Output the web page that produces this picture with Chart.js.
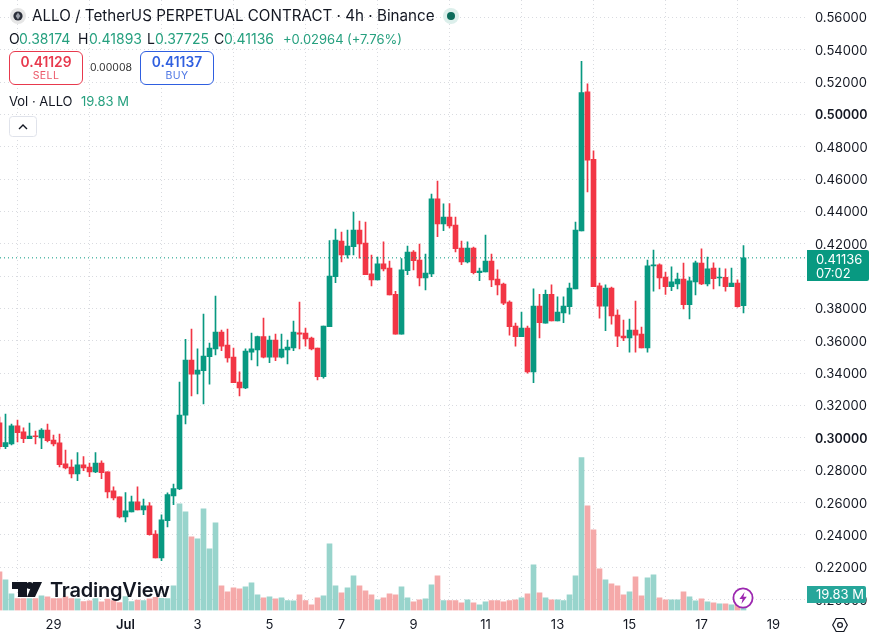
<!DOCTYPE html>
<html>
<head>
<meta charset="utf-8">
<title>ALLO / TetherUS 4h</title>
<script src="https://cdn.jsdelivr.net/npm/chart.js@4/dist/chart.umd.js"></script>
<style>
  html, body { margin: 0; padding: 0; background: #fff; }
  #wrap { position: relative; width: 874px; height: 639px; overflow: hidden; font-family: Inter, sans-serif; color: #131722; }
  canvas { position: absolute; left: 0; top: 0; }
  .t { position: absolute; white-space: nowrap; line-height: 1; }
  .g { color: #26a07f; }
  .box { position: absolute; top: 51px; width: 72px; height: 32px; border: 1px solid; border-radius: 6px; background: #fff; text-align: center; }
  .box b { position: absolute; left: 0; right: 0; top: 3px; font-size: 13.8px; font-weight: 600; line-height: 15px; }
  .box span { position: absolute; left: 0; right: 0; top: 18px; font-size: 10.5px; line-height: 12px; letter-spacing: .4px; opacity: .85; }
  .tag { position: absolute; color: #fff; font-size: 13px; }
  svg { position: absolute; overflow: visible; }
</style>
</head>
<body>
<div id="wrap">
  <canvas id="chart" width="874" height="639"></canvas>

  <svg style="left:10px;top:8px" width="16" height="16" viewBox="0 0 16 16">
    <circle cx="8" cy="8" r="8" fill="#e6e6e6"/>
    <circle cx="8" cy="8" r="4.6" fill="#2a2e39"/>
    <path d="M8 4.6 L10.4 8 L8 11.4 L5.6 8 Z" fill="#9a9ea8"/>
  </svg>
  <div class="t" id="title" style="left:32px;top:8px;font-size:15.2px"></div>
  <svg style="left:443px;top:8px" width="16" height="16" viewBox="0 0 16 16">
    <circle cx="8" cy="8" r="8" fill="#dcefeb"/>
    <circle cx="8" cy="8" r="4" fill="#0b6b5a"/>
  </svg>

  <div class="t" style="left:9px;top:32px;font-size:14px">O</div>
  <div class="t g" style="left:19px;top:32px;font-size:14px">0.38174</div>
  <div class="t" style="left:78px;top:32px;font-size:14px">H</div>
  <div class="t g" style="left:89px;top:32px;font-size:14px">0.41893</div>
  <div class="t" style="left:147px;top:32px;font-size:14px">L</div>
  <div class="t g" style="left:155px;top:32px;font-size:14px">0.37725</div>
  <div class="t" style="left:214px;top:32px;font-size:14px">C</div>
  <div class="t g" style="left:224px;top:32px;font-size:14px">0.41136</div>
  <div class="t g" style="left:283px;top:33px;font-size:13px">+0.02964</div>
  <div class="t g" style="left:347px;top:33px;font-size:13px">(+7.76%)</div>

  <div class="box" style="left:9px;color:#e8394d;border-color:#e8394d"><b>0.41129</b><span>SELL</span></div>
  <div class="t" style="left:90px;top:63px;font-size:10.5px;color:#333">0.00008</div>
  <div class="box" style="left:140px;color:#2f5fe0;border-color:#2f5fe0"><b>0.41137</b><span>BUY</span></div>

  <div class="t" style="left:9px;top:95px;font-size:13px">Vol · ALLO</div>
  <div class="t g" style="left:81px;top:95px;font-size:13px">19.83 M</div>

  <svg style="left:9px;top:116px" width="29" height="22" viewBox="0 0 29 22">
    <rect x=".5" y=".5" width="27" height="20" rx="3" fill="#fff" stroke="#e0e3eb"/>
    <path d="M10 13 L14 9 L18 13" fill="none" stroke="#131722" stroke-width="1.4"/>
  </svg>

  <svg style="left:12px;top:582px" width="30" height="15" viewBox="0 0 30 15">
    <path fill="#131722" d="M0 0H15V15H6V7H0Z"/>
    <circle cx="17.7" cy="3.5" r="3.5" fill="#131722"/>
    <path fill="#131722" d="M21 0H30L23 15H15Z"/>
  </svg>
  <div class="t" style="left:50px;top:580px;font-size:20px;font-weight:600;letter-spacing:-.2px">TradingView</div>

  <svg style="left:732px;top:587px" width="22" height="22" viewBox="0 0 22 22">
    <circle cx="11" cy="11" r="9.6" fill="#fff" stroke="#9c27b0" stroke-width="1.8"/>
    <path d="M12.6 5 L7.4 12 H10.6 L9.4 17 L14.8 9.8 H11.4 Z" fill="#9c27b0"/>
  </svg>

  <div class="tag" style="left:807px;top:250px;width:62px;height:31px;background:#089981;border-radius:0 2px 2px 0">
    <div class="t" style="left:9px;top:3px">0.41136</div>
    <div class="t" style="left:9px;top:17px">07:02</div>
  </div>
  <div class="tag" style="left:807px;top:586px;width:59px;height:17px;background:#26a69a;border-radius:0 2px 2px 0">
    <div class="t" style="left:9px;top:2px">19.83 M</div>
  </div>

  <svg style="left:832px;top:617px" width="16" height="16" viewBox="0 0 16 16">
    <path d="M4.2 1.5 H11.8 L15.3 8 L11.8 14.5 H4.2 L.7 8 Z" fill="none" stroke="#131722" stroke-width="1.2"/>
    <circle cx="8" cy="8" r="2.4" fill="none" stroke="#131722" stroke-width="1.2"/>
  </svg>
</div>

<script>
const titleText = 'ALLO / TetherUS PERPETUAL CONTRACT · 4h · Binance'

const opens = [
  .3094, .2946, .2963, .3074, .3037, .2995, .3012, .3000, .3049, .2987, .2969, .2839, .2820,
  .2777, .2833, .2820, .2790, .2845, .2790, .2672, .2635, .2511, .2542, .2604, .2555, .2580,
  .2406, .2258, .2488, .2641, .2685, .3140, .3482, .3395, .3416, .3502, .3551, .3655, .3574,
  .3500, .3346, .3309, .3531, .3544, .3626, .3500, .3605, .3500, .3544, .3556, .3650, .3649,
  .3618, .3556, .3378, .3688, .3997, .4218, .4131, .4183, .4286, .4205, .4014, .3977, .4076,
  .4051, .3888, .3642, .4035, .4150, .4100, .3989, .4014, .4478, .4323, .4366, .4317, .4174,
  .4088, .4174, .4022, .4026, .4094, .3983, .3952, .3840, .3692, .3626, .3679, .3408, .3815,
  .3710, .3888, .3724, .3773, .3811, .3922, .4280, .5140, .4723, .3940, .3815, .3927, .3760,
  .3630, .3618, .3667, .3642, .3556, .4064, .4071, .3995, .3936, .3952, .3983, .3824, .3965,
  .4082, .3952, .4051, .3989, .3993, .3936, .3958, .38174
]
const highs = [
  .3129, .3148, .3086, .3111, .3062, .3092, .3043, .3057, .3086, .3018, .3024, .2925, .2864,
  .2909, .2884, .2845, .2909, .2859, .2790, .2697, .2635, .2662, .2641, .2697, .2622, .2600,
  .2427, .2524, .2660, .2715, .3346, .3610, .3673, .3551, .3766, .3587, .3877, .3667, .3673,
  .3556, .3408, .3551, .3649, .3630, .3741, .3630, .3642, .3642, .3605, .3723, .3840, .3679,
  .3624, .3556, .3692, .4220, .4292, .4273, .4286, .4397, .4341, .4335, .4131, .4119, .4212,
  .4094, .3907, .4109, .4187, .4158, .4199, .4137, .4508, .4589, .4447, .4449, .4366, .4218,
  .4212, .4180, .4051, .4255, .4137, .4039, .3958, .3848, .3710, .3778, .3692, .3922, .3888,
  .3915, .3946, .3872, .3872, .3958, .4335, .5329, .5189, .4775, .3958, .3946, .3933, .3792,
  .3729, .3735, .3846, .3686, .4100, .4162, .4076, .4026, .4058, .4020, .4082, .3995, .4094,
  .4170, .4119, .4083, .4051, .4045, .4051, .3977, .41893
]
const lows = [
  .2932, .2934, .2956, .2975, .2971, .2995, .2963, .2934, .2975, .2950, .2820, .2808, .2752,
  .2736, .2798, .2760, .2785, .2748, .2629, .2616, .2505, .2481, .2542, .2555, .2526, .2398,
  .2258, .2241, .2450, .2587, .2680, .3086, .3259, .3272, .3210, .3333, .3514, .3539, .3469,
  .3341, .3259, .3304, .3482, .3445, .3494, .3465, .3477, .3494, .3457, .3539, .3551, .3568,
  .3544, .3358, .3370, .3688, .3960, .4088, .4112, .4131, .4112, .4009, .3940, .3977, .4033,
  .3884, .3642, .3642, .4009, .4039, .3940, .3915, .3997, .4244, .4282, .4298, .4150, .4071,
  .4083, .4014, .3973, .4026, .3936, .3884, .3824, .3636, .3568, .3626, .3401, .3341, .3618,
  .3710, .3724, .3724, .3712, .3766, .3922, .4280, .4521, .3936, .3741, .3663, .3704, .3564,
  .3601, .3531, .3531, .3556, .3531, .3907, .3922, .3888, .3911, .3922, .3797, .3736, .3884,
  .3948, .3940, .3922, .3940, .3907, .3936, .3809, .37725
]
const closes = [
  .2946, .2971, .3074, .3032, .2995, .3012, .3007, .3049, .2983, .2963, .2835, .2814, .2777,
  .2833, .2814, .2790, .2845, .2785, .2666, .2629, .2511, .2549, .2604, .2555, .2580, .2402,
  .2258, .2493, .2649, .2686, .3142, .3482, .3395, .3420, .3506, .3556, .3655, .3568, .3494,
  .3341, .3309, .3537, .3551, .3626, .3500, .3605, .3500, .3550, .3562, .3655, .3642, .3612,
  .3550, .3378, .3692, .4001, .4224, .4131, .4187, .4286, .4199, .4009, .3977, .4076, .4045,
  .3884, .3642, .4039, .4150, .4096, .3989, .4020, .4478, .4323, .4366, .4311, .4170, .4088,
  .4174, .4022, .4031, .4094, .3977, .3946, .3834, .3688, .3626, .3679, .3408, .3815, .3712,
  .3888, .3724, .3778, .3815, .3927, .4286, .5136, .4718, .3936, .3815, .3927, .3755, .3630,
  .3618, .3667, .3636, .3556, .4064, .4068, .3989, .3936, .3965, .3983, .3824, .3971, .4083,
  .3952, .4045, .3985, .3993, .3936, .3958, .3811, .41136
]
// volume in millions
const volumes = [
  49.5, 39.3, 21.4, 15.4, 15.4, 15.4, 15.4, 18.8, 17.5, 15.4, 15.4, 17.5, 15.4,
  15.0, 11.5, 12.4, 15.4, 11.1, 14.5, 12.8, 10.2, 17.9, 11.5, 13.2, 12.8, 15.0,
  17.0, 15.7, 15.4, 31.6, 136.6, 126.3, 94.3, 91.8, 130.2, 79.0, 112.3, 31.6, 23.9,
  29.1, 27.8, 30.3, 35.5, 20.1, 16.3, 17.5, 15.0, 16.3, 12.8, 12.4, 20.1, 12.8,
  7.3, 16.3, 18.8, 85.4, 31.6, 22.7, 29.1, 44.4, 31.6, 25.2, 20.1, 13.7, 16.3,
  21.4, 20.1, 30.3, 16.3, 11.1, 13.7, 15.0, 32.9, 44.4, 12.8, 12.8, 12.8, 9.9,
  13.7, 9.9, 7.3, 11.1, 12.8, 12.8, 11.1, 12.8, 13.7, 16.3, 21.4, 58.5, 22.7,
  16.3, 13.7, 13.7, 12.8, 20.1, 44.4, 195.5, 134.0, 103.3, 53.4, 39.3, 34.2, 31.6,
  20.1, 23.9, 43.1, 18.8, 41.9, 45.7, 16.3, 13.7, 13.7, 13.7, 23.9, 17.5, 12.4,
  15.0, 11.1, 9.9, 8.6, 8.6, 7.3, 8.6, 19.83
]

const priceTicks = [.56, .54, .52, .5, .48, .46, .44, .42, .4, .38, .36, .34, .32, .3, .28, .26, .24, .22, .2]
const boldPrices = [.5, .3]
const dayLabels = ['29', 'Jul', '3', '5', '7', '9', '11', '13', '15', '17', '19']
const dayCandles = [9, 21, 33, 45, 57, 69, 81, 93, 105, 117, 129]

const UP = '#089981'
const DOWN = '#f23645'
const VOL_UP = '#98d4cc'
const VOL_DOWN = '#f5a9a9'
const GRID = '#d9dbe0'
const FONT = 'Inter, sans-serif'

// visible window of the axes, one candle every 6px
const X_MIN = 1 / 12
const X_MAX = X_MIN + 807 / 6
const PRICE_MIN = 0.19327
const PRICE_MAX = 0.57082
const VOL_MAX = 781

document.getElementById('title').textContent = titleText

const isUp = (i) => closes[i] >= opens[i]
const candleColors = opens.map((o, i) => (isUp(i) ? UP : DOWN))
const volColors = opens.map((o, i) => (isUp(i) ? VOL_UP : VOL_DOWN))
const lastClose = closes[closes.length - 1]

// eslint-disable-next-line no-new
new Chart(document.getElementById('chart'), {
  type: 'bar',
  data: {
    datasets: [
      {
        type: 'line',
        order: 0,
        data: [{ x: X_MIN, y: lastClose }, { x: X_MAX, y: lastClose }],
        borderColor: UP,
        borderWidth: 1,
        borderDash: [1, 3],
        pointRadius: 0
      },
      {
        order: 1,
        grouped: false,
        barThickness: 5,
        minBarLength: 1,
        data: opens.map((o, i) => ({ x: i, y: [Math.min(o, closes[i]), Math.max(o, closes[i])] })),
        backgroundColor: candleColors
      },
      {
        order: 2,
        grouped: false,
        barThickness: 1,
        data: opens.map((o, i) => ({ x: i, y: [lows[i], highs[i]] })),
        backgroundColor: candleColors
      },
      {
        order: 3,
        grouped: false,
        barThickness: 5,
        yAxisID: 'vol',
        data: volumes.map((v, i) => ({ x: i, y: v })),
        backgroundColor: volColors
      }
    ]
  },
  options: {
    responsive: false,
    animation: false,
    layout: { padding: 0 },
    plugins: { legend: { display: false }, tooltip: { enabled: false } },
    scales: {
      x: {
        type: 'linear',
        min: X_MIN,
        max: X_MAX,
        offset: false,
        afterBuildTicks (scale) {
          scale.ticks = dayCandles.map((value) => ({ value }))
        },
        afterFit (scale) {
          scale.height = 28.5
          scale.paddingLeft = 0
          scale.paddingRight = 0
        },
        border: { display: false, dash: [1, 3] },
        grid: { color: GRID, lineWidth: 1, drawTicks: false },
        ticks: {
          padding: 7,
          maxRotation: 0,
          autoSkip: false,
          color: '#131722',
          font: (ctx) => ({ family: FONT, size: 13, weight: ctx.tick && ctx.tick.value === dayCandles[1] ? 600 : 400 }),
          callback: (value) => dayLabels[dayCandles.indexOf(value)]
        }
      },
      y: {
        position: 'right',
        min: PRICE_MIN,
        max: PRICE_MAX,
        afterBuildTicks (scale) {
          scale.ticks = priceTicks.map((value) => ({ value }))
        },
        afterFit (scale) {
          scale.width = 67
          scale.paddingTop = 0
          scale.paddingBottom = 0
          // Inter digits sit high in the middle baseline, push the labels down a pixel
          if (!scale.nudged) {
            const drawLabels = scale.drawLabels
            scale.drawLabels = function (area) {
              this.ctx.save()
              this.ctx.translate(0, 1)
              drawLabels.call(this, area)
              this.ctx.restore()
            }
            scale.nudged = true
          }
        },
        border: { display: false, dash: [1, 3] },
        grid: { color: GRID, lineWidth: 1, drawTicks: false },
        ticks: {
          padding: 8,
          autoSkip: false,
          color: '#131722',
          font: (ctx) => {
            const bold = ctx.tick && boldPrices.includes(ctx.tick.value)
            return { family: FONT, size: bold ? 12.5 : 13, weight: bold ? 600 : 400 }
          },
          callback: (value) => value.toFixed(5)
        }
      },
      vol: {
        display: false,
        min: 0,
        max: VOL_MAX
      }
    }
  }
})
</script>
</body>
</html>
